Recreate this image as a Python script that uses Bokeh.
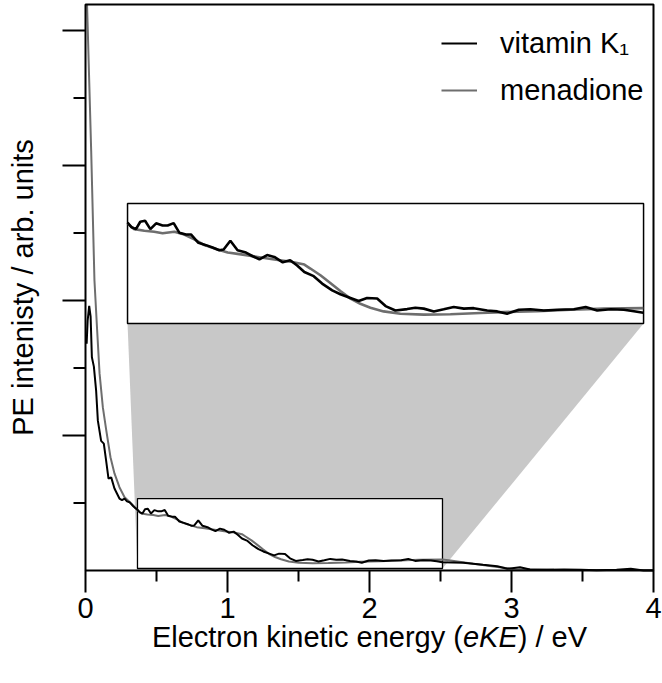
import numpy as np
from bokeh.plotting import figure
from bokeh.models import (Range1d, BoxAnnotation, PolyAnnotation, Legend, LegendItem)
from bokeh.core.properties import value
from bokeh.embed import file_html
from bokeh.resources import INLINE

# ---------------- data ----------------
energy_k1 = [0.008, 0.015, 0.026, 0.036, 0.045, 0.059, 0.075, 0.087, 0.110, 0.129, 0.145, 0.162,
             0.181, 0.204, 0.239, 0.257, 0.275, 0.292, 0.310, 0.335, 0.352,
             0.366, 0.383, 0.401, 0.419, 0.439, 0.461, 0.485, 0.512, 0.533, 0.558, 0.582, 0.609,
             0.630, 0.661, 0.693, 0.720, 0.748, 0.766, 0.794, 0.824, 0.859, 0.887, 0.915, 0.947,
             0.977, 1.012, 1.043, 1.072, 1.102, 1.141, 1.176, 1.218, 1.252, 1.294, 1.328, 1.363,
             1.405, 1.440, 1.481, 1.530, 1.564, 1.599, 1.641, 1.682, 1.724, 1.766, 1.807, 1.863,
             1.905, 1.946, 1.995, 2.043, 2.099, 2.155, 2.224, 2.273, 2.321, 2.377, 2.432, 2.474,
             2.513, 2.66, 2.80, 2.90, 2.97, 3.06, 3.13, 3.25, 3.37, 3.49, 3.60, 3.74, 3.84, 3.93, 4.0]
signal_k1 = [1.68, 1.85, 1.96, 1.88, 1.58, 1.51, 1.33, 1.11, 0.96, 0.94, 0.815, 0.68,
             0.69, 0.607, 0.533, 0.522, 0.533, 0.512, 0.506, 0.478, 0.462,
             0.450, 0.430, 0.422, 0.454, 0.458, 0.422, 0.447, 0.438, 0.438, 0.448, 0.406, 0.399,
             0.399, 0.363, 0.353, 0.343, 0.331, 0.334, 0.372, 0.331, 0.321, 0.305, 0.292, 0.310,
             0.302, 0.279, 0.288, 0.265, 0.237, 0.219, 0.187, 0.158, 0.141, 0.125, 0.112, 0.125,
             0.123, 0.090, 0.071, 0.077, 0.083, 0.079, 0.067, 0.076, 0.086, 0.079, 0.081, 0.071,
             0.067, 0.057, 0.074, 0.076, 0.071, 0.074, 0.076, 0.086, 0.071, 0.076, 0.074, 0.068,
             0.061, 0.057, 0.042, 0.032, 0.013, 0.024, 0.007, 0.005, 0.007, 0.005, 0.002, 0.005,
             0.013, 0.0, 0.0]

energy_men = [0.011, 0.040, 0.063, 0.082, 0.099, 0.122, 0.146, 0.176, 0.204, 0.239, 0.275,
              0.322, 0.366, 0.394, 0.436, 0.477, 0.512, 0.561, 0.602, 0.644, 0.686, 0.741, 0.783,
              0.839, 0.908, 0.977, 1.047, 1.102, 1.127, 1.169, 1.210, 1.252, 1.294, 1.335, 1.377,
              1.432, 1.502, 1.599, 1.710, 1.835, 1.931, 2.071, 2.210, 2.349, 2.513, 2.57, 2.73,
              2.90, 3.02, 3.3, 3.6, 3.9, 4.0]
signal_men = [4.19, 3.11, 2.15, 1.78, 1.46, 1.21, 1.04, 0.839, 0.719, 0.617, 0.543,
              0.496, 0.447, 0.422, 0.415, 0.411, 0.404, 0.411, 0.399, 0.378, 0.353, 0.334, 0.321,
              0.313, 0.302, 0.291, 0.281, 0.269, 0.252, 0.223, 0.190, 0.155, 0.122, 0.100, 0.083,
              0.067, 0.057, 0.053, 0.055, 0.060, 0.064, 0.068, 0.074, 0.079, 0.081, 0.074, 0.050,
              0.026, 0.010, 0.005, 0.004, 0.003, 0.003]

x_ticks = [0, 1, 2, 3, 4]
x_minor_ticks = [0.5, 1.5, 2.5, 3.5]
x_tick_labels = ["0", "1", "2", "3", "4"]
y_ticks = [1, 2, 3, 4]
y_minor_ticks = [0.5, 1.5, 2.5, 3.5]

series_names = ["vitamin K\u2081", "menadione"]
x_title_parts = ["Electron kinetic energy (", "eKE", ") / eV"]
y_title = "PE intenisty / arb. units"

# ---------------- layout / style ----------------
W, H = 662, 683
FONT = "Liberation Sans"
FS = 29
BLACK = "#000000"
GREY = "#6e6e6e"
SHADE = "#c8c8c8"

# axes box (data) and its placement on the canvas (pixels)
X_MIN, X_MAX = 0.0, 4.0
Y_MIN = 0.0
ORIGIN_PX = (85, 570)          # canvas pixel of data (0, 0), from top-left
PX_X, PX_Y = 142.0, 135.0       # pixels per data unit
Y_MAX = (ORIGIN_PX[1] - 4) / PX_Y

XL = -ORIGIN_PX[0] / PX_X
XR = (W - ORIGIN_PX[0]) / PX_X
YB = -(H - ORIGIN_PX[1]) / PX_Y
YT = ORIGIN_PX[1] / PX_Y

# zoomed region (data) and where its magnified copy is drawn (data)
ZX0, ZX1, ZY0, ZY1 = 0.366, 2.514, 0.015, 0.533
IX0, IX1, IY0, IY1 = 0.296, 3.930, 1.830, 2.719

p = figure(width=W, height=H, x_range=Range1d(XL, XR), y_range=Range1d(YB, YT),
           x_axis_type=None, y_axis_type=None, min_border=0,
           output_backend="svg", toolbar_location=None)
p.background_fill_color = "white"
p.border_fill_color = "white"
p.outline_line_color = None

# connector shading and zoom boxes
p.add_layout(PolyAnnotation(xs=[IX0, IX1, ZX1, ZX0], ys=[IY0, IY0, ZY0, ZY0],
                            fill_color=SHADE, fill_alpha=1.0, line_color=None, level="underlay"))
p.add_layout(BoxAnnotation(left=ZX0, right=ZX1, bottom=ZY0, top=ZY1, fill_color="white",
                           fill_alpha=1.0, line_color=BLACK, line_alpha=1.0, line_width=1.3,
                           level="underlay"))
p.add_layout(BoxAnnotation(left=IX0, right=IX1, bottom=IY0, top=IY1, fill_color="white",
                           fill_alpha=1.0, line_color=BLACK, line_alpha=1.0, line_width=1.5,
                           level="underlay"))

# main curves
r_men = p.line(energy_men, signal_men, line_color=GREY, line_width=2)
r_k1 = p.line(energy_k1, signal_k1, line_color=BLACK, line_width=2)

# magnified copy in the inset
kx = (IX1 - IX0) / (ZX1 - ZX0)
ky = (IY1 - IY0) / (ZY1 - ZY0)


def to_inset(xs, ys):
    xs = np.asarray(xs, float)
    ys = np.asarray(ys, float)
    m = (xs >= ZX0 - 1e-9) & (xs <= ZX1 + 1e-9)
    return IX0 + (xs[m] - ZX0) * kx, IY0 + (ys[m] - ZY0) * ky


mx, my = to_inset(energy_men, signal_men)
bx, by = to_inset(energy_k1, signal_k1)
p.line(mx, my, line_color=GREY, line_width=2.6)
p.line(bx, by, line_color=BLACK, line_width=2.6)

# axes box
p.quad(left=[X_MIN], right=[X_MAX], bottom=[Y_MIN], top=[Y_MAX], fill_color=None,
       line_color=BLACK, line_width=2)

# ticks (outside)
MAJ, MIN = 22.0, 11.0
p.segment(x0=x_ticks, y0=[Y_MIN] * len(x_ticks), x1=x_ticks,
          y1=[Y_MIN - MAJ / PX_Y] * len(x_ticks), line_color=BLACK, line_width=2)
p.segment(x0=x_minor_ticks, y0=[Y_MIN] * len(x_minor_ticks), x1=x_minor_ticks,
          y1=[Y_MIN - MIN / PX_Y] * len(x_minor_ticks), line_color=BLACK, line_width=2)
p.segment(x0=[X_MIN] * len(y_ticks), y0=y_ticks, x1=[X_MIN - (MAJ + 1) / PX_X] * len(y_ticks),
          y1=y_ticks, line_color=BLACK, line_width=2)
p.segment(x0=[X_MIN] * len(y_minor_ticks), y0=y_minor_ticks,
          x1=[X_MIN - (MIN + 1) / PX_X] * len(y_minor_ticks), y1=y_minor_ticks,
          line_color=BLACK, line_width=2)

# tick labels
p.text(x=x_ticks, y=[Y_MIN - 37 / PX_Y] * len(x_ticks), text=x_tick_labels,
       text_align="center", text_baseline="middle", text_font=value(FONT),
       text_font_size=value(f"{FS}px"), text_color=BLACK)

# x title (with italic eKE)
w_it = 1.89 * FS / PX_X
xc = (X_MIN + X_MAX) / 2
total = (10.726 + 1.89 + 2.39) * FS / PX_X
it_left = xc - total / 2 + 10.726 * FS / PX_X
title_y = Y_MIN - 66 / PX_Y
p.text(x=[it_left], y=[title_y], text=[x_title_parts[0]], text_align="right",
       text_baseline="middle", text_font=value(FONT), text_font_size=value(f"{FS}px"),
       text_color=BLACK)
p.text(x=[it_left], y=[title_y], text=[x_title_parts[1]], text_align="left",
       text_baseline="middle", text_font=value(FONT), text_font_size=value(f"{FS}px"),
       text_font_style="italic", text_color=BLACK)
p.text(x=[it_left + w_it], y=[title_y], text=[x_title_parts[2]], text_align="left",
       text_baseline="middle", text_font=value(FONT), text_font_size=value(f"{FS}px"),
       text_color=BLACK)

# y title
p.text(x=[X_MIN - 63 / PX_X], y=[(Y_MIN + Y_MAX) / 2], text=[y_title], angle=np.pi / 2,
       text_align="center", text_baseline="middle", text_font=value(FONT),
       text_font_size=value(f"{FS}px"), text_color=BLACK)

# legend
legend = Legend(items=[LegendItem(label=series_names[0], renderers=[r_k1]),
                       LegendItem(label=series_names[1], renderers=[r_men])],
                location=(441, 576), padding=0, margin=0, spacing=13,
                glyph_width=36, glyph_height=34, label_standoff=23,
                label_text_font=FONT, label_text_font_size=f"{FS}px", label_text_color=BLACK,
                border_line_color=None, background_fill_alpha=0)
p.add_layout(legend)

open("out.html", "w").write(file_html(p, INLINE))
